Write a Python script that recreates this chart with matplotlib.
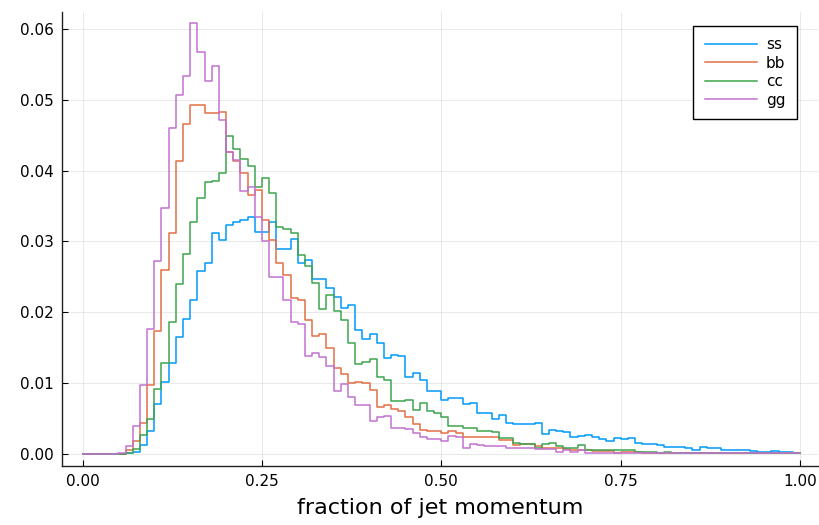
import numpy as np
import matplotlib.pyplot as plt
from matplotlib.ticker import FixedLocator

# bin edges: 100 bins of width 0.01 on [0, 1]
edges = np.linspace(0, 1, 101)

ss = [0, 0, 0, 0, 0, 0, 0.0001, 0.0003, 0.0013, 0.0032,
      0.0071, 0.0101, 0.0129, 0.0165, 0.0191, 0.0217, 0.0258, 0.0270, 0.0312, 0.0302,
      0.0323, 0.0328, 0.0331, 0.0334, 0.0314, 0.0314, 0.0328, 0.0290, 0.0290, 0.0303,
      0.0269, 0.0274, 0.0247, 0.0247, 0.0234, 0.0222, 0.0206, 0.0210, 0.0175, 0.0163,
      0.0169, 0.0157, 0.0135, 0.0140, 0.0138, 0.0109, 0.0114, 0.0105, 0.0089, 0.0089,
      0.0076, 0.0079, 0.0079, 0.0071, 0.0072, 0.0058, 0.0058, 0.0049, 0.0055, 0.0044,
      0.0043, 0.0042, 0.0043, 0.0044, 0.0028, 0.0034, 0.0032, 0.0031, 0.0024, 0.0026,
      0.0027, 0.0024, 0.0021, 0.0019, 0.0022, 0.0021, 0.0022, 0.0016, 0.0014, 0.0014,
      0.0012, 0.0010, 0.0010, 0.0010, 0.0008, 0.0006, 0.0010, 0.0009, 0.0009, 0.0006,
      0.0006, 0.0006, 0.0006, 0.0004, 0.0003, 0.0003, 0.0004, 0.0003, 0.0003, 0.0002]

bb = [0, 0, 0, 0, 0, 0, 0.0005, 0.0019, 0.0044, 0.0098,
      0.0174, 0.0260, 0.0312, 0.0414, 0.0466, 0.0493, 0.0493, 0.0481, 0.0481, 0.0483,
      0.0426, 0.0413, 0.0396, 0.0366, 0.0372, 0.0331, 0.0302, 0.0269, 0.0253, 0.0220,
      0.0217, 0.0189, 0.0166, 0.0170, 0.0150, 0.0122, 0.0113, 0.0100, 0.0102, 0.0100,
      0.0091, 0.0067, 0.0069, 0.0063, 0.0060, 0.0052, 0.0043, 0.0034, 0.0032, 0.0032,
      0.0030, 0.0033, 0.0029, 0.0024, 0.0024, 0.0024, 0.0024, 0.0024, 0.0020, 0.0020,
      0.0013, 0.0014, 0.0014, 0.0011, 0.0008, 0.0008, 0.0008, 0.0007, 0.0006, 0.0006,
      0.0005, 0.0004, 0.0004, 0.0004, 0.0002, 0.0003, 0.0003, 0.0003, 0.0002, 0.0002,
      0.0002, 0.0001, 0.0002, 0.0001, 0.0001, 0.0002, 0.0001, 0.0001, 0.0001, 0.0001,
      0.0001, 0.0001, 0.0001, 0.0001, 0.0001, 0.0001, 0.0001, 0.0001, 0.0001, 0.0001]

cc = [0, 0, 0, 0, 0, 0, 0.0002, 0.0007, 0.0027, 0.0050,
      0.0092, 0.0129, 0.0187, 0.0240, 0.0283, 0.0327, 0.0361, 0.0384, 0.0385, 0.0396,
      0.0449, 0.0430, 0.0416, 0.0406, 0.0377, 0.0389, 0.0369, 0.0320, 0.0318, 0.0312,
      0.0281, 0.0266, 0.0242, 0.0204, 0.0225, 0.0202, 0.0189, 0.0157, 0.0127, 0.0130,
      0.0134, 0.0109, 0.0105, 0.0075, 0.0075, 0.0076, 0.0062, 0.0072, 0.0060, 0.0058,
      0.0052, 0.0040, 0.0040, 0.0036, 0.0036, 0.0033, 0.0032, 0.0031, 0.0022, 0.0023,
      0.0015, 0.0014, 0.0014, 0.0009, 0.0014, 0.0015, 0.0011, 0.0009, 0.0009, 0.0012,
      0.0006, 0.0006, 0.0006, 0.0006, 0.0006, 0.0005, 0.0005, 0.0003, 0.0003, 0.0003,
      0.0002, 0.0003, 0.0002, 0.0002, 0.0002, 0.0001, 0.0002, 0.0001, 0.0001, 0.0001,
      0.0001, 0.0001, 0.0001, 0.0001, 0.0001, 0.0001, 0.0001, 0.0001, 0.0001, 0.0001]

gg = [0, 0, 0, 0, 0, 0.0001, 0.0011, 0.0039, 0.0098, 0.0176,
      0.0273, 0.0347, 0.0460, 0.0507, 0.0533, 0.0608, 0.0568, 0.0527, 0.0548, 0.0472,
      0.0427, 0.0415, 0.0371, 0.0377, 0.0334, 0.0300, 0.0250, 0.0250, 0.0218, 0.0187,
      0.0183, 0.0138, 0.0142, 0.0137, 0.0124, 0.0089, 0.0099, 0.0081, 0.0069, 0.0069,
      0.0047, 0.0052, 0.0054, 0.0037, 0.0037, 0.0035, 0.0030, 0.0024, 0.0021, 0.0021,
      0.0018, 0.0025, 0.0024, 0.0009, 0.0014, 0.0013, 0.0011, 0.0011, 0.0011, 0.0009,
      0.0008, 0.0008, 0.0008, 0.0007, 0.0007, 0.0007, 0.0003, 0.0005, 0.0003, 0.0005,
      0.0002, 0.0002, 0.0002, 0.0002, 0.0001, 0.0001, 0.0001, 0.0001, 0.0001, 0.0001,
      0.0001, 0.0001, 0.0001, 0.0001, 0.0001, 0.0001, 0.0001, 0.0001, 0.0001, 0.0001,
      0.0001, 0.0001, 0.0001, 0.0001, 0.0001, 0.0001, 0.0001, 0.0001, 0.0001, 0.0001]

labels = ["ss", "bb", "cc", "gg"]
colors = ["#009AFA", "#E36F47", "#3EA44E", "#C371D2"]
xticks = [0.0, 0.25, 0.5, 0.75, 1.0]
yticks = [0.0, 0.01, 0.02, 0.03, 0.04, 0.05, 0.06]

fig = plt.figure(figsize=(8.2, 5.25), dpi=100)
ax = fig.add_axes([62/820, 59/525, 756/820, 454/525])

for vals, lab, col in zip([ss, bb, cc, gg], labels, colors):
    y = np.append(vals, vals[-1])
    ax.plot(edges, y, drawstyle="steps-post", color=col, lw=1.1, label=lab)

ax.set_xlim(-0.0286, 1.025)
ax.set_ylim(-0.0017, 0.0624)
ax.xaxis.set_major_locator(FixedLocator(xticks))
ax.yaxis.set_major_locator(FixedLocator(yticks))
ax.set_xticklabels(["%.2f" % t for t in xticks])
ax.set_yticklabels(["%.2f" % t for t in yticks])
ax.tick_params(direction="in", length=4, width=0.8, labelsize=11, pad=6)
ax.grid(True, color="#000000", alpha=0.1, lw=0.6)
ax.set_axisbelow(True)
for s in ["top", "right"]:
    ax.spines[s].set_visible(False)
for s in ["left", "bottom"]:
    ax.spines[s].set_linewidth(1.0)
    ax.spines[s].set_color("#222222")

ax.set_xlabel("fraction of jet momentum", fontsize=16, labelpad=6)

leg = ax.legend(loc="upper right", bbox_to_anchor=((797-62)/756, (466-26)/454),
                borderaxespad=0, fontsize=11, handlelength=3.4, handletextpad=0.6,
                labelspacing=0.22, borderpad=0.75, fancybox=False, framealpha=1,
                edgecolor="black")
leg.get_frame().set_linewidth(1.0)

fig.savefig("out.png", dpi=100)
